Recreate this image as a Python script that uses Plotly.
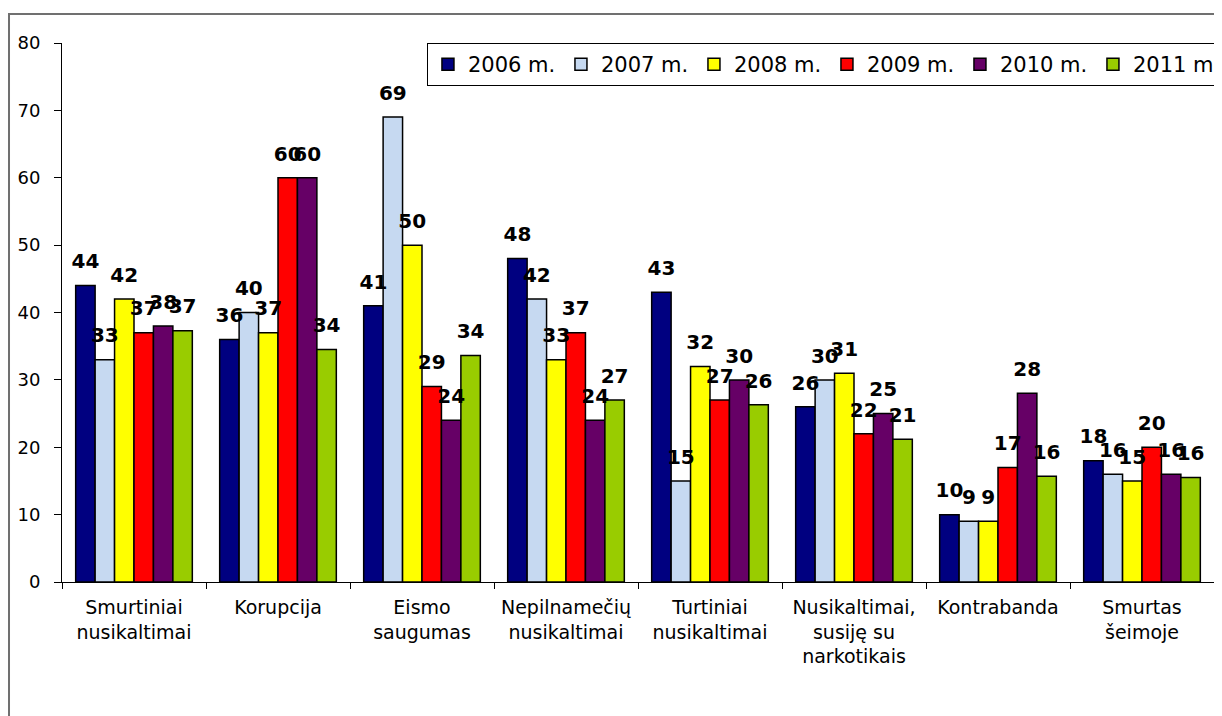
import plotly.graph_objects as go

categories = [
    "Smurtiniai<br>nusikaltimai",
    "Korupcija",
    "Eismo<br>saugumas",
    "Nepilnamečių<br>nusikaltimai",
    "Turtiniai<br>nusikaltimai",
    "Nusikaltimai,<br>susiję su<br>narkotikais",
    "Kontrabanda",
    "Smurtas<br>šeimoje",
]

series_names = ["2006 m.", "2007 m.", "2008 m.", "2009 m.", "2010 m.", "2011 m."]

v2006 = [44, 36, 41, 48, 43, 26, 10, 18]
v2007 = [33, 40, 69, 42, 15, 30, 9, 16]
v2008 = [42, 37, 50, 33, 32, 31, 9, 15]
v2009 = [37, 60, 29, 37, 27, 22, 17, 20]
v2010 = [38, 60, 24, 24, 30, 25, 28, 16]
v2011 = [37.3, 34.5, 33.6, 27.0, 26.3, 21.2, 15.7, 15.5]

colors = ["#000080", "#C6D9F1", "#FFFF00", "#FF0000", "#660066", "#99CC00"]

y_ticks = [0, 10, 20, 30, 40, 50, 60, 70, 80]

all_values = [v2006, v2007, v2008, v2009, v2010, v2011]

FONT = "DejaVu Sans, Liberation Sans, Arial, sans-serif"

fig = go.Figure()
for name, vals, col in zip(series_names, all_values, colors):
    fig.add_trace(go.Bar(
        name=name,
        x=categories,
        y=vals,
        marker=dict(color=col, line=dict(color="black", width=1.5)),
        hoverinfo="x+y+name",
    ))

# value labels, grouped like the bars, lifted above the bar tops
for name, vals in zip(series_names, all_values):
    fig.add_trace(go.Scatter(
        name=name,
        x=categories,
        y=vals,
        mode="markers+text",
        marker=dict(size=18, opacity=0),
        text=[f"{v:.0f}" for v in vals],
        textposition="top center",
        textfont=dict(family="DejaVu Sans, Liberation Sans, Arial", size=20, color="black", weight="bold"),
        cliponaxis=False,
        showlegend=False,
        hoverinfo="skip",
    ))

fig.update_layout(
    width=1222,
    height=716,
    barmode="group",
    scattermode="group",
    bargap=0.19,
    bargroupgap=0,
    scattergap=0.19,
    plot_bgcolor="white",
    paper_bgcolor="white",
    margin=dict(l=54, r=16, t=35, b=142, autoexpand=False),
    font=dict(family=FONT, color="black"),
    showlegend=True,
    legend=dict(
        orientation="h",
        x=0.3168,
        xanchor="left",
        y=1.0,
        yanchor="top",
        bordercolor="black",
        borderwidth=1,
        bgcolor="white",
        font=dict(family=FONT, size=21, color="black"),
        traceorder="normal",
        entrywidth=88,
        itemwidth=30,
    ),
    shapes=[dict(
        type="rect", xref="paper", yref="paper",
        x0=-0.046, x1=1.2, y0=-0.6, y1=1.0538,
        line=dict(color="#707070", width=2),
        fillcolor="rgba(0,0,0,0)",
        layer="below",
    )],
)

fig.update_xaxes(
    showline=True, linecolor="black", linewidth=1,
    ticks="outside", ticklen=6, tickcolor="black",
    tickson="boundaries",
    tickangle=0,
    ticklabelstandoff=8,
    tickfont=dict(family=FONT, size=19, color="black"),
    showgrid=False,
)
fig.update_yaxes(
    range=[0, 80],
    tickvals=y_ticks,
    showline=True, linecolor="black", linewidth=1,
    ticks="outside", ticklen=7, tickcolor="black",
    ticklabelstandoff=10,
    tickfont=dict(family=FONT, size=18, color="black"),
    showgrid=False, zeroline=False,
)

fig.write_html("out.html")
